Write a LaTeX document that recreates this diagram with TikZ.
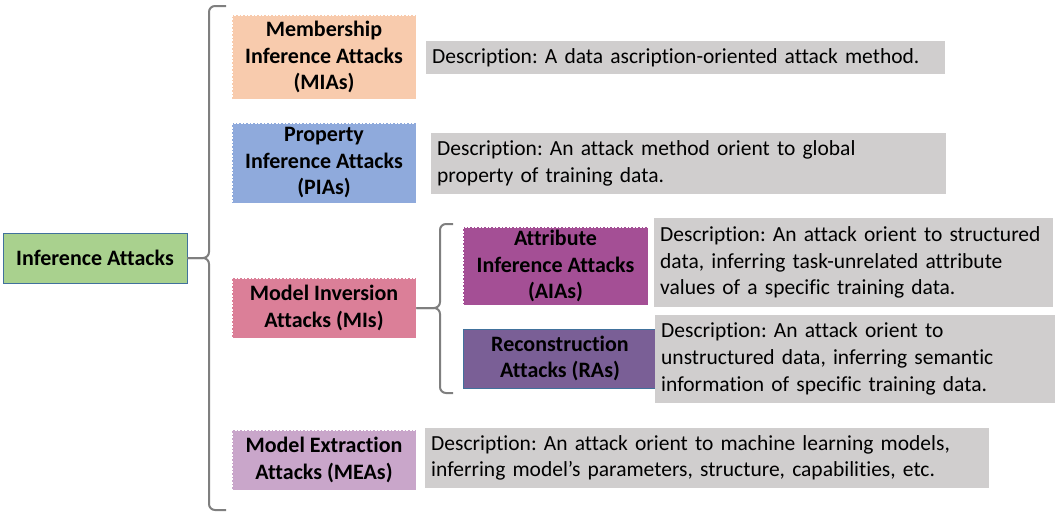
\documentclass[tikz,border=0pt]{standalone}
\usepackage{fontspec}
\setmainfont{Carlito}[Ligatures={NoCommon}]
\frenchspacing
\definecolor{cIA}{HTML}{A9D18E}
\definecolor{cIAb}{HTML}{41719C}
\definecolor{cMIA}{HTML}{F8CBAD}
\definecolor{cPIA}{HTML}{8FAADC}
\definecolor{cMI}{HTML}{DB7F98}
\definecolor{cMEA}{HTML}{C9A6CA}
\definecolor{cAIA}{HTML}{A44F95}
\definecolor{cRA}{HTML}{7A5F96}
\definecolor{cDesc}{HTML}{D0CECE}
\definecolor{cBr}{HTML}{7F7F7F}
\newcommand{\dline}[1]{\mbox{#1}}
\begin{document}
\begin{tikzpicture}[x=1pt,y=-1pt,
  cat/.style={fill=#1, draw=white, dash pattern=on 2pt off 1.5pt, line width=0.9pt,
    font=\bfseries\fontsize{22}{26.5}\selectfont, text=black, align=center, inner sep=0pt},
  solidcat/.style={fill=#1, draw=cIAb, line width=0.7pt,
    font=\bfseries\fontsize{22}{26.5}\selectfont, text=black, align=center, inner sep=0pt},
  desc/.style={fill=cDesc, draw=none, font=\fontsize{21.5}{26.7}\selectfont, text=black,
    align=left, inner xsep=6pt, inner ysep=0pt, anchor=west, text width=#1},
  brk/.style={draw=cBr, line width=2pt, rounded corners=6pt}]
\useasboundingbox (0,0) rectangle (1057,514);

% main node
\node[solidcat=cIA, minimum width=184pt, minimum height=50pt] (IA) at (95,258) {Inference Attacks};

% category nodes
\node[cat=cMIA, minimum width=184pt, minimum height=84pt] (MIA) at (324,57) {Membership\\Inference Attacks\\(MIAs)};
\node[cat=cPIA, minimum width=184pt, minimum height=80pt] (PIA) at (324,163) {Property\\Inference Attacks\\(PIAs)};
\node[cat=cMI, minimum width=184pt, minimum height=60pt] (MI) at (324,308) {Model Inversion\\Attacks (MIs)};
\node[cat=cMEA, minimum width=184pt, minimum height=60pt] (MEA) at (324,460) {Model Extraction\\Attacks (MEAs)};
\node[cat=cAIA, minimum width=185pt, minimum height=78pt] (AIA) at (555.5,266) {Attribute\\Inference Attacks\\(AIAs)};
\node[solidcat=cRA, minimum width=194pt, minimum height=59pt] (RA) at (560,358.5) {Reconstruction\\Attacks (RAs)};

% descriptions
\node[desc=507pt, minimum height=33pt] (dMIA) at (426,57.5) {\dline{Description: A data ascription-oriented attack method.}};
\node[desc=503pt, minimum height=61pt] (dPIA) at (431,163.5) {\dline{Description: An attack method orient to global}\\\dline{property of training data.}};
\node[desc=387pt, minimum height=89pt] (dAIA) at (654,262.5) {\dline{Description: An attack orient to structured}\\\dline{data, inferring task-unrelated attribute}\\\dline{values of a specific training data.}};
\node[desc=388pt, minimum height=88pt] (dRA) at (655,359) {\dline{Description: An attack orient to}\\\dline{unstructured data, inferring semantic}\\\dline{information of specific training data.}};
\node[desc=552pt, minimum height=60pt] (dMEA) at (425,458) {\dline{Description: An attack orient to machine learning models,}\\\dline{inferring model’s parameters, structure, capabilities, etc.}};

% big bracket
\coordinate (bt) at (226,6);
\coordinate (bm) at (209,258);
\coordinate (bb) at (226,510);
\draw[brk] (bt) -- (bt -| bm) -- (bm) -- (IA.east);
\draw[brk] (IA.east) -- (bm) -- (bb -| bm) -- (bb);

% small bracket
\coordinate (st) at (453,224);
\coordinate (sm) at (440,308);
\coordinate (sb) at (453,393);
\draw[brk] (st) -- (st -| sm) -- (sm) -- (MI.east);
\draw[brk] (MI.east) -- (sm) -- (sb -| sm) -- (sb);
\end{tikzpicture}
\end{document}
